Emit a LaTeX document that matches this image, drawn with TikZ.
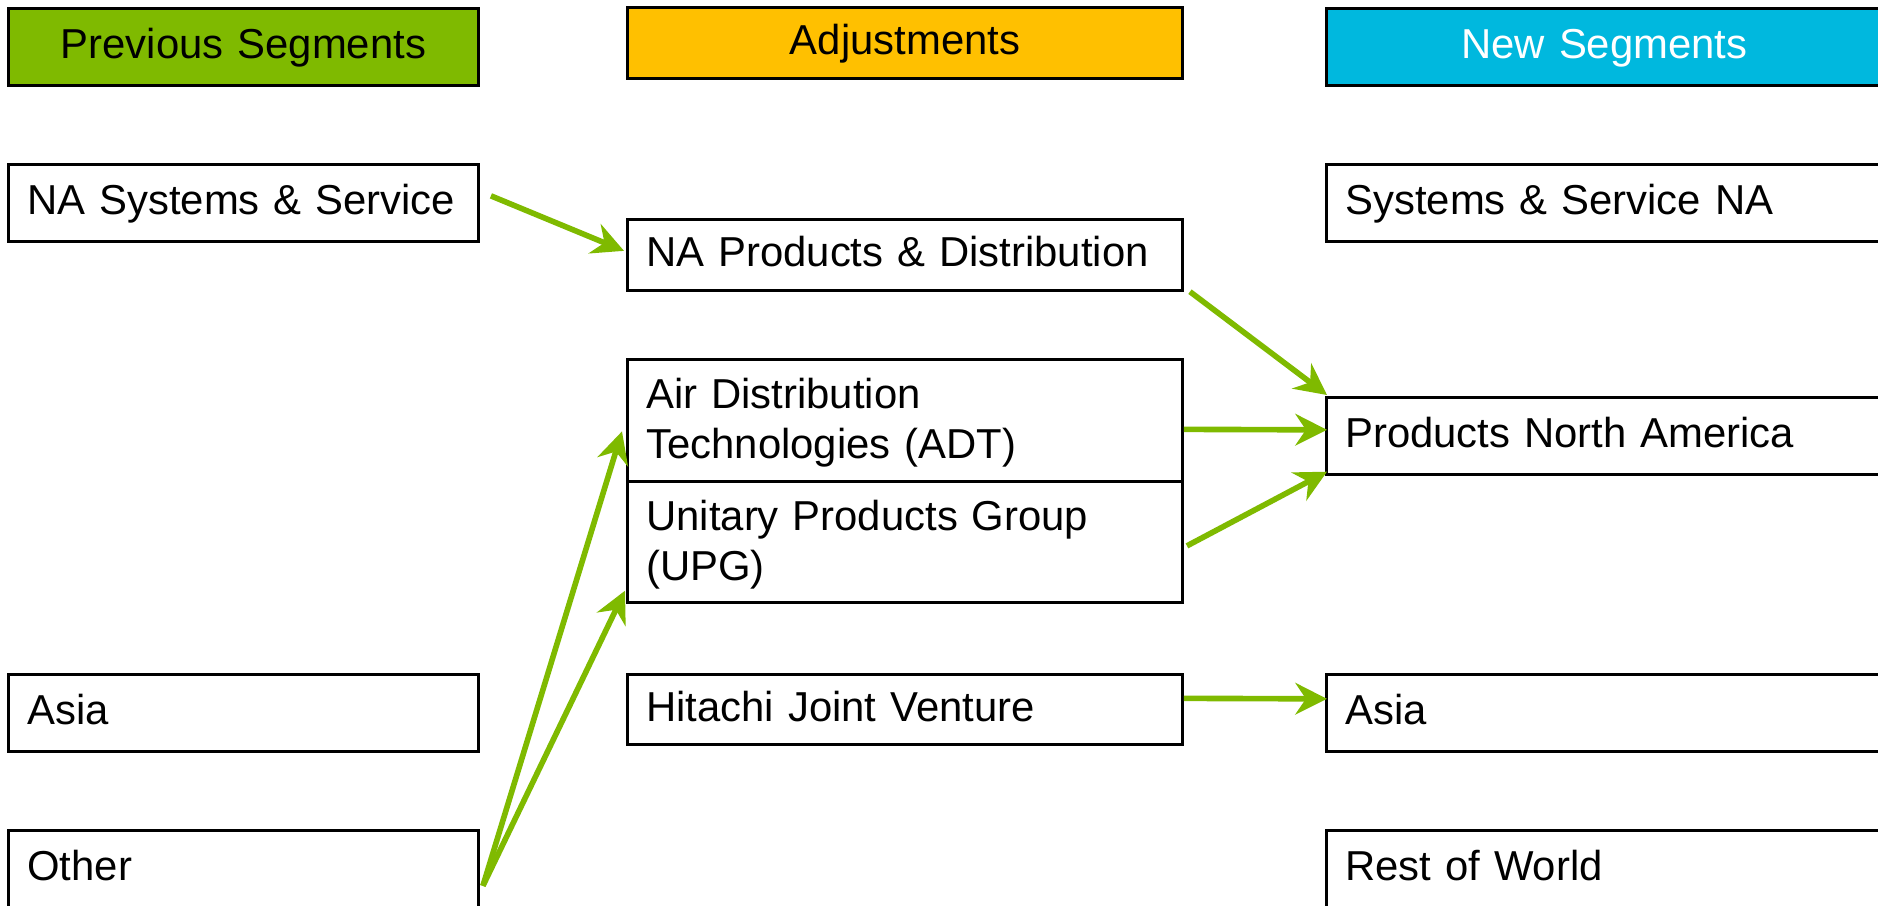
\documentclass[tikz,border=0pt]{standalone}
\usepackage{fontspec}
\setmainfont{Liberation Sans}
\usetikzlibrary{arrows.meta}
\definecolor{segGreen}{RGB}{127,186,0}
\definecolor{segOrange}{RGB}{255,192,0}
\definecolor{segBlue}{RGB}{0,184,222}
\newcommand{\segstrut}{\rule[-0.27em]{0pt}{1.117em}}
\begin{document}
\begin{tikzpicture}[x=0.01cm, y=-0.01cm,
  segbox/.style={draw, line width=0.75pt, anchor=north west, inner xsep=0.19cm, inner ysep=0pt,
    align=left, text width=#1, font=\fontsize{11.9}{14.2}\selectfont, execute at begin node=\segstrut},
  headbox/.style={segbox=#1, align=center},
  flow/.style={draw=segGreen, line width=1.6pt, -{Stealth[length=9pt, width=9pt, inset=3pt]}}]
\useasboundingbox (0,0) rectangle (1878,905);
\node[headbox=4.32cm, fill=segGreen, minimum height=0.77cm] (prev0) at (7,7){Previous Segments};
\node[headbox=5.17cm, fill=segOrange, minimum height=0.71cm] (adj0) at (626,6){Adjustments};
\node[headbox=5.18cm, fill=segBlue, text=white, minimum height=0.77cm] (new0) at (1325,7){New Segments};
\node[segbox=4.32cm, minimum height=0.77cm] (prev1) at (7,163){NA Systems \& Service};
\node[segbox=4.32cm, minimum height=0.77cm] (prev2) at (7,673){Asia};
\node[segbox=4.32cm, minimum height=0.77cm] (prev3) at (7,829){Other};
\node[segbox=5.17cm, minimum height=0.71cm] (adj1) at (626,218){NA Products \& Distribution};
\node[segbox=5.17cm, minimum height=1.22cm] (adj2) at (626,358){Air Distribution\\Technologies (ADT)};
\node[segbox=5.17cm, minimum height=1.21cm] (adj3) at (626,480){Unitary Products Group\\(UPG)};
\node[segbox=5.17cm, minimum height=0.70cm] (adj4) at (626,673){Hitachi Joint Venture};
\node[segbox=5.18cm, minimum height=0.77cm] (new1) at (1325,163){Systems \& Service NA};
\node[segbox=5.18cm, minimum height=0.77cm] (new2) at (1325,396){Products North America};
\node[segbox=5.18cm, minimum height=0.77cm] (new3) at (1325,673){Asia};
\node[segbox=5.18cm, minimum height=0.77cm] (new4) at (1325,829){Rest of World};
\coordinate (fork) at ([shift={(3,17)}]prev3.east);
\draw[flow] ([shift={(11,-7)}]prev1.east) -- ([shift={(-2,-4)}]adj1.west);
\draw[flow] ([shift={(6,0)}]adj1.south east) -- ([shift={(2,-1)}]new2.north west);
\draw[flow] ([shift={(0,9)}]adj2.east) -- ([shift={(2,-6)}]new2.west);
\draw[flow] ([shift={(3,4)}]adj3.east) -- ([shift={(2,-4)}]new2.south west);
\draw[flow] ([shift={(0,-11)}]adj4.east) -- ([shift={(2,-14)}]new3.west);
\draw[flow] (fork) -- ([shift={(-4,11)}]adj2.west);
\draw[flow] (fork) -- ([shift={(-1,-13)}]adj3.south west);
\end{tikzpicture}
\end{document}
